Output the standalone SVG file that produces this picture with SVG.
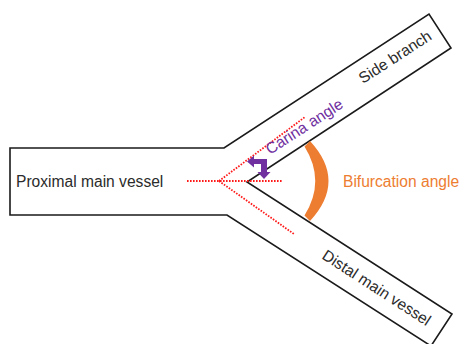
<svg xmlns="http://www.w3.org/2000/svg" width="464" height="344" viewBox="0 0 464 344">
<style>
.outline{fill:#fff;stroke:#1a1a1a;stroke-width:1.6;stroke-linejoin:miter}
.dot{fill:none;stroke:#ff1a1a;stroke-width:1.8;stroke-dasharray:1.6 1.4}
.lbl{font-family:"Liberation Sans",Arial,sans-serif;font-size:15.6px;fill:#2b2b2b}
</style>
<rect width="464" height="344" fill="#fff"/>
<g id="vessel">
<polygon class="outline" points="10,148 224,148 429,14 451,48 247,182 452,314 431,346 227,215 10,215"/>
<text class="lbl" x="16" y="187">Proximal main vessel</text>
<text class="lbl" transform="translate(363,84) rotate(-33)">Side branch</text>
<text class="lbl" transform="translate(321,258) rotate(33)">Distal main vessel</text>
</g>
<g id="connectors">
<line class="dot" x1="187" y1="181" x2="283" y2="181"/>
<line class="dot" x1="219" y1="181" x2="305" y2="117"/>
<line class="dot" x1="219" y1="181" x2="294" y2="234"/>
</g>
<g id="carina">
<polygon fill="#7030a0" points="247,161.5 254,155.5 254,159 267,159 267,172 270.5,172 264,179 257.5,172 261,172 261,164 254,164 254,167.5"/>
<text class="lbl" style="fill:#7030a0" transform="translate(270,155) rotate(-33)">Carina angle</text>
</g>
<g id="bifurcation">
<path fill="#ed7d31" d="M304.5,146.5 L310,141 Q347,181 310,221 L304.5,215.5 Q326,181 304.5,146.5 Z"/>
<text class="lbl" style="fill:#ed7d31" x="343" y="187">Bifurcation angle</text>
</g>
</svg>
